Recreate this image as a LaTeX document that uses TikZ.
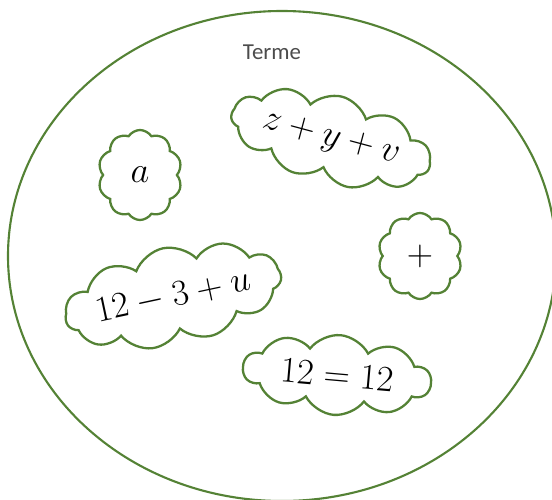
\documentclass[tikz,border=0pt]{standalone}
\usepackage{amsmath}
\usepackage{fontspec}
\usepackage{tikz}
\usetikzlibrary{shapes.symbols}
\usepackage{xcolor}
\definecolor{blattgruen}{HTML}{548235}
\newfontfamily\titelfont{Carlito}

\begin{document}
\begin{tikzpicture}[
  wolke/.style={cloud, cloud ignores aspect, cloud puff arc=115, draw=blattgruen, line width=1.3pt,
    fill=white, inner sep=0pt, font=\fontsize{20}{22}\selectfont}
]
  \useasboundingbox (0,0) rectangle (11.04,9.98);
  \clip (0,0) rectangle (11.04,9.98);
  \draw[blattgruen,line width=1.2pt] (5.64,4.86) ellipse (5.48cm and 4.9cm);
  \node[text=black!70,font=\titelfont\fontsize{13}{15}\selectfont] (terme) at (5.44,8.94) {Terme};
  % die einzelnen Terme
  \node[wolke,cloud puffs=10,minimum width=1.68cm,minimum height=1.8cm] (wa) at (2.8,6.48) {$a$};
  \node[wolke,cloud puffs=11,minimum width=4.1cm,minimum height=1.75cm,rotate=-15] (wzyv) at (6.62,7.2) {$z+y+v$};
  \node[wolke,cloud puffs=10,minimum width=1.68cm,minimum height=1.72cm] (wplus) at (8.4,4.86) {$+$};
  \node[wolke,cloud puffs=11,minimum width=4.4cm,minimum height=1.95cm,rotate=12] (wu) at (3.46,4.06) {$12-3+u$};
  \node[wolke,cloud puffs=10,minimum width=3.76cm,minimum height=1.6cm,rotate=-5] (wgleich) at (6.74,2.48) {$12=12$};
\end{tikzpicture}
\end{document}
